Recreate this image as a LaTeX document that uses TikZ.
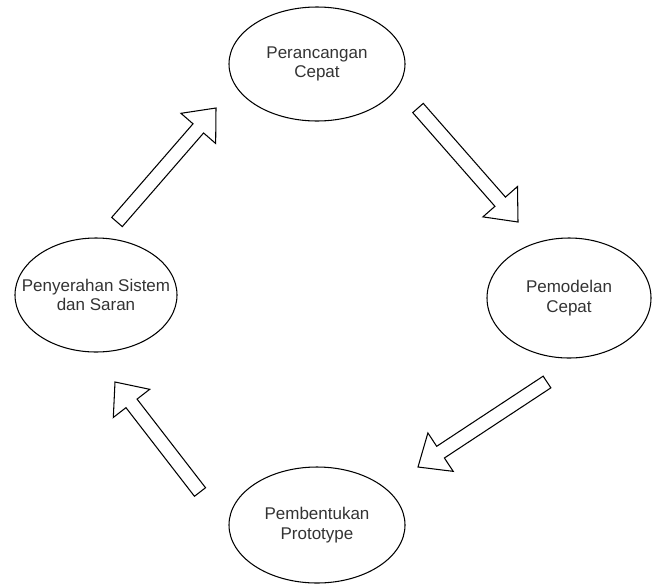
\documentclass[tikz,border=0pt]{standalone}
\usepackage{fontspec}
\setmainfont{Liberation Sans}
\usetikzlibrary{calc,shapes.geometric}

\tikzset{
  tahap/.style={ellipse, draw, line width=0.9pt, align=center, text=black!80,
    font=\fontsize{14.5}{16.5}\selectfont, inner xsep=-1cm, inner ysep=0pt},
  panah/.style={draw, line width=0.9pt, fill=white, line join=miter},
}

% hollow block arrow from #1 (tail) to #2 (tip)
\newcommand\panahblok[2]{%
  \coordinate (#1-leher) at ($(#2)!0.81cm!(#1)$);
  \draw[panah] ($(#1)!0.21cm!90:(#2)$) -- ($(#1-leher)!0.21cm!90:(#2)$)
    -- ($(#1-leher)!0.69cm!90:(#2)$) -- (#2)
    -- ($(#1-leher)!0.69cm!-90:(#2)$) -- ($(#1-leher)!0.21cm!-90:(#2)$)
    -- ($(#1)!0.21cm!-90:(#2)$) -- cycle;}

\begin{document}
\begin{tikzpicture}[x=0.03cm,y=-0.03cm]
\useasboundingbox (0,0) rectangle (652,583);

\node[tahap, minimum width=5.28cm, minimum height=3.42cm] (rancang) at (317,64)  {Perancangan\\Cepat};
\node[tahap, minimum width=4.92cm, minimum height=3.6cm]  (model)   at (569,298) {Pemodelan\\Cepat};
\node[tahap, minimum width=5.28cm, minimum height=3.48cm] (bentuk)  at (317,525) {Pembentukan\\Prototype};
\node[tahap, minimum width=4.86cm, minimum height=3.42cm] (serah)   at (96,295)  {Penyerahan Sistem\\dan Saran};

\coordinate (pangkal1) at (117,222); \coordinate (ujung1) at (216,108);
\coordinate (pangkal2) at (418,108); \coordinate (ujung2) at (518,222);
\coordinate (pangkal3) at (547,382); \coordinate (ujung3) at (418,467);
\coordinate (pangkal4) at (200,492); \coordinate (ujung4) at (115,382);

\panahblok{pangkal1}{ujung1}
\panahblok{pangkal2}{ujung2}
\panahblok{pangkal3}{ujung3}
\panahblok{pangkal4}{ujung4}
\end{tikzpicture}
\end{document}
